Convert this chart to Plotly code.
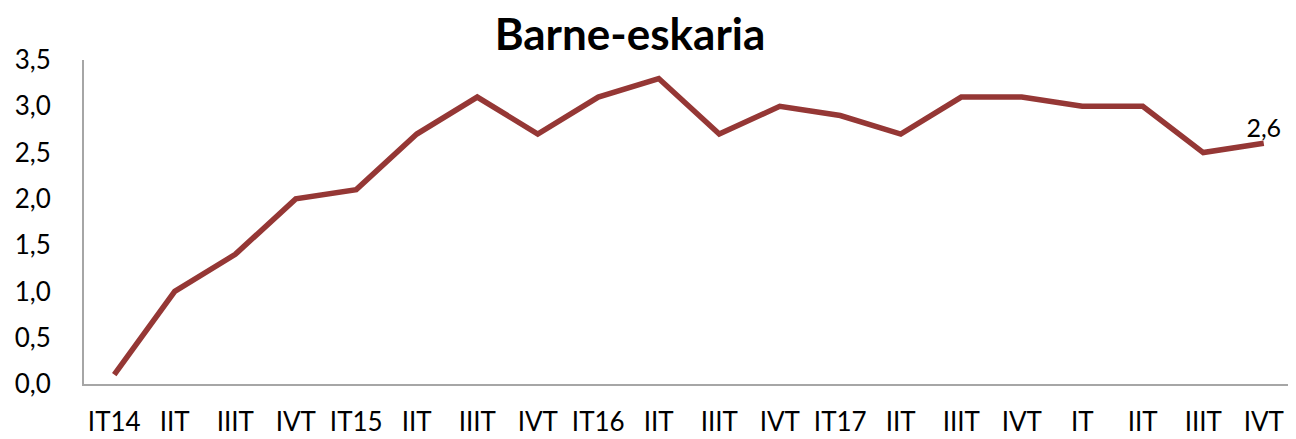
import plotly.graph_objects as go

categories = ["IT14", "IIT", "IIIT", "IVT", "IT15", "IIT", "IIIT", "IVT",
              "IT16", "IIT", "IIIT", "IVT", "IT17", "IIT", "IIIT", "IVT",
              "IT", "IIT", "IIIT", "IVT"]
values = [0.1, 1.0, 1.4, 2.0, 2.1, 2.7, 3.1, 2.7, 3.1, 3.3,
          2.7, 3.0, 2.9, 2.7, 3.1, 3.1, 3.0, 3.0, 2.5, 2.6]
y_ticks = [0, 0.5, 1.0, 1.5, 2.0, 2.5, 3.0, 3.5]
y_ticktext = [f"{v:.1f}".replace(".", ",") for v in y_ticks]

idx = list(range(len(categories)))
last_label = f"{values[-1]:.1f}".replace(".", ",")

FONT = "Lato, Open Sans, sans-serif"
W, H = 1288, 431  # page body has an 8px margin

fig = go.Figure()
fig.add_trace(go.Scatter(
    x=idx, y=values, mode="lines+text",
    line=dict(color="#953735", width=5.5),
    text=[""] * (len(values) - 1) + [last_label],
    textposition="top center",
    textfont=dict(family=FONT, size=25, color="black"),
    cliponaxis=False,
    hoverinfo="skip",
))

fig.update_layout(
    width=W, height=H,
    margin=dict(l=76, r=2, t=52, b=53),
    paper_bgcolor="white", plot_bgcolor="white",
    showlegend=False,
    title=dict(text="<b>Barne-eskaria</b>", x=622 / W, xanchor="center",
               y=1 - 27 / H, yanchor="middle",
               font=dict(family=FONT, size=44, color="black")),
    font=dict(family=FONT, size=26, color="black"),
)
fig.update_xaxes(
    range=[-0.5, len(categories) - 0.5],
    tickmode="array", tickvals=idx, ticktext=categories,
    showgrid=False, zeroline=False,
    showline=True, linecolor="#a6a6a6", linewidth=2,
    ticks="", ticklabelstandoff=14,
    tickfont=dict(size=26),
)
fig.update_yaxes(
    range=[0, 3.5],
    tickmode="array", tickvals=y_ticks, ticktext=y_ticktext,
    showgrid=False, zeroline=False,
    showline=True, linecolor="#a6a6a6", linewidth=2,
    ticks="", ticklabelstandoff=26,
    tickfont=dict(size=26),
)

fig.write_html("out.html")
